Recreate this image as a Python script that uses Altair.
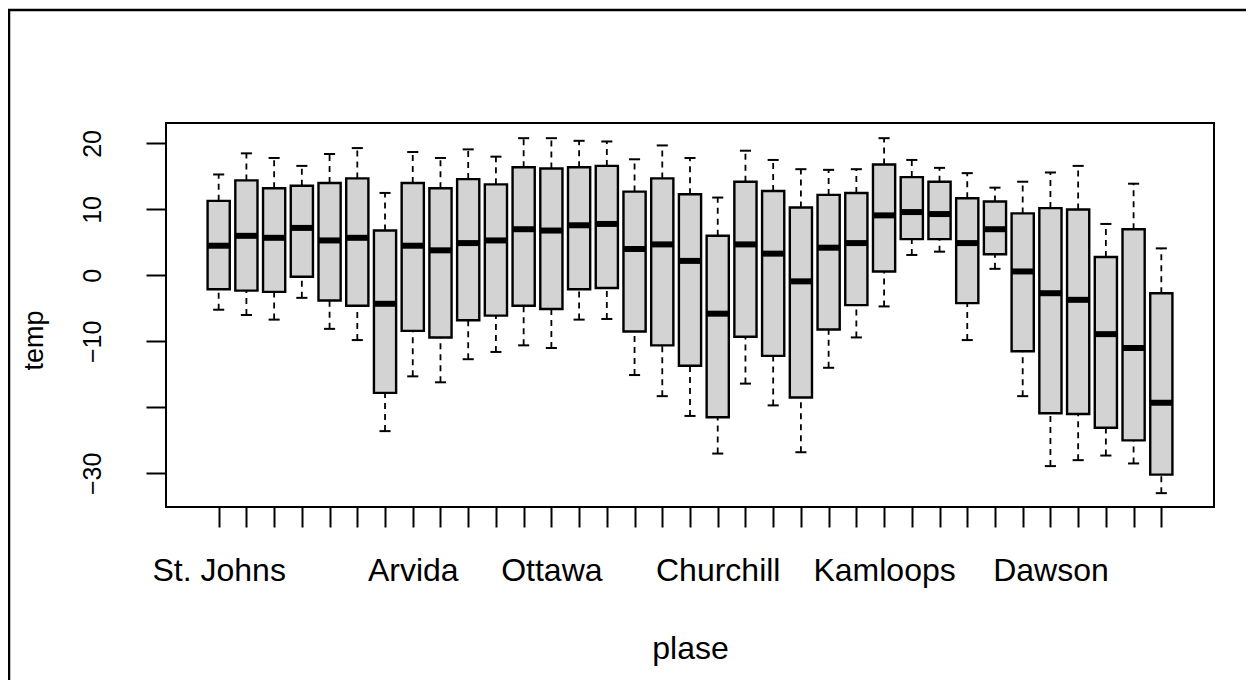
import json
import altair as alt
import pandas as pd

places = ["St. Johns", "Halifax", "Sydney", "Yarmouth", "Charlottvl", "Fredericton",
          "Scheffervll", "Arvida", "Bagottville", "Quebec", "Sherbrooke", "Montreal",
          "Ottawa", "Toronto", "London", "Thunder Bay", "Winnipeg", "The Pas",
          "Churchill", "Regina", "Pr. Albert", "Uranium City", "Edmonton", "Calgary",
          "Kamloops", "Vancouver", "Victoria", "Pr. George", "Pr. Rupert", "Whitehorse",
          "Dawson", "Yellowknife", "Iqaluit", "Inuvik", "Resolute"]
shown_labels = ["St. Johns", "Arvida", "Ottawa", "Churchill", "Kamloops", "Dawson"]

whisker_low = [-5.2, -6.0, -6.7, -3.4, -8.1, -9.8, -23.6, -15.3, -16.2, -12.7, -11.6, -10.6,
               -11.0, -6.7, -6.6, -15.1, -18.3, -21.3, -27.0, -16.4, -19.7, -26.8, -14.0, -9.4,
               -4.7, 3.1, 3.6, -9.8, 1.0, -18.3, -28.9, -28.0, -27.3, -28.5, -33.0]
q1 = [-2.1, -2.3, -2.5, -0.2, -3.8, -4.6, -17.8, -8.4, -9.4, -6.8, -6.1, -4.6,
      -5.1, -2.1, -1.9, -8.5, -10.6, -13.7, -21.5, -9.3, -12.2, -18.5, -8.2, -4.5,
      0.6, 5.5, 5.5, -4.2, 3.2, -11.5, -20.9, -21.0, -23.1, -25.0, -30.2]
median = [4.5, 6.0, 5.7, 7.2, 5.3, 5.7, -4.3, 4.5, 3.8, 4.9, 5.3, 7.0,
          6.8, 7.6, 7.8, 4.0, 4.7, 2.2, -5.8, 4.7, 3.3, -0.9, 4.2, 4.9,
          9.1, 9.6, 9.3, 4.9, 7.0, 0.6, -2.7, -3.7, -8.9, -11.0, -19.3]
q3 = [11.3, 14.4, 13.2, 13.6, 14.0, 14.7, 6.8, 14.0, 13.2, 14.6, 13.8, 16.4,
      16.2, 16.4, 16.6, 12.7, 14.7, 12.3, 6.0, 14.2, 12.8, 10.3, 12.2, 12.5,
      16.8, 14.9, 14.2, 11.7, 11.2, 9.4, 10.2, 10.0, 2.8, 7.0, -2.7]
whisker_high = [15.3, 18.5, 17.8, 16.6, 18.4, 19.3, 12.5, 18.7, 17.8, 19.1, 18.0, 20.8,
                20.8, 20.4, 20.3, 17.6, 19.7, 17.8, 11.8, 18.9, 17.5, 16.1, 16.0, 16.1,
                20.8, 17.5, 16.3, 15.5, 13.3, 14.2, 15.6, 16.6, 7.8, 13.9, 4.1]

df = pd.DataFrame({
    "idx": list(range(1, len(places) + 1)),
    "place": places,
    "low": whisker_low, "q1": q1, "median": median, "q3": q3, "high": whisker_high,
})

W, H = 1048, 384
FONT = "Liberation Sans"

places_js = json.dumps(places)
shown_js = json.dumps(shown_labels)
label_expr = (f"indexof({shown_js}, {places_js}[datum.value - 1]) >= 0 ? "
              f"{places_js}[datum.value - 1] : ''")

xscale = alt.Scale(domain=[-0.9, 36.9], nice=False, zero=False)
yscale = alt.Scale(domain=[-35.1, 23.1], nice=False, zero=False)

x_axis = alt.Axis(
    values=list(range(1, len(places) + 1)), tickCount=len(places) + 5,
    labelExpr=label_expr, title="plase",
    grid=False, domain=False, ticks=True, tickSize=20, tickWidth=2, tickColor="black",
    labelFontSize=32, labelColor="black", labelBaseline="alphabetic", labelPadding=53,
    labelOverlap=False, labelFlush=False, labelFont=FONT,
    titleFontSize=32, titleFontWeight="normal", titleColor="black", titleFont=FONT,
    titleX=W / 2, titleY=151, titleBaseline="alphabetic", titleAlign="center",
)
y_axis = alt.Axis(
    values=[-30, -20, -10, 0, 10, 20], tickCount=12,
    labelExpr="datum.value == -20 ? '' : datum.label",
    title="temp", grid=False, domain=False, tickSize=20, tickWidth=2, tickColor="black",
    labelFontSize=25, labelColor="black", labelAngle=-90, labelAlign="center",
    labelBaseline="alphabetic", labelPadding=46, labelFont=FONT, labelOverlap=False,
    titleFontSize=27, titleFontWeight="normal", titleColor="black", titleFont=FONT,
    titleAngle=-90, titleX=-124, titleY=217, titleBaseline="alphabetic", titleAlign="center",
)

base = alt.Chart(df).transform_calculate(
    xl="datum.idx - 0.4", xr="datum.idx + 0.4",
    sl="datum.idx - 0.2", sr="datum.idx + 0.2",
)

whisk_lo = base.mark_rule(color="black", strokeWidth=1.8, strokeDash=[6, 5]).encode(
    x=alt.X("idx:Q", scale=xscale, axis=x_axis),
    y=alt.Y("low:Q", scale=yscale, axis=y_axis),
    y2="q1:Q",
)
whisk_hi = base.mark_rule(color="black", strokeWidth=1.8, strokeDash=[6, 5]).encode(
    x=alt.X("idx:Q", scale=xscale),
    y=alt.Y("q3:Q", scale=yscale),
    y2="high:Q",
)
boxes = base.mark_rect(fill="#d3d3d3", stroke="black", strokeWidth=2.4).encode(
    x=alt.X("xl:Q", scale=xscale), x2="xr:Q",
    y=alt.Y("q1:Q", scale=yscale), y2="q3:Q",
)
medians = base.mark_rule(color="black", strokeWidth=6, strokeCap="butt").encode(
    x=alt.X("xl:Q", scale=xscale), x2="xr:Q",
    y=alt.Y("median:Q", scale=yscale),
)
staple_lo = base.mark_rule(color="black", strokeWidth=2).encode(
    x=alt.X("sl:Q", scale=xscale), x2="sr:Q",
    y=alt.Y("low:Q", scale=yscale),
)
staple_hi = base.mark_rule(color="black", strokeWidth=2).encode(
    x=alt.X("sl:Q", scale=xscale), x2="sr:Q",
    y=alt.Y("high:Q", scale=yscale),
)

frame_data = alt.Data(values=[{"f": 1}])
frame_left = alt.Chart(frame_data).mark_rule(color="black", strokeWidth=2.5).encode(
    x=alt.value(-157), y=alt.value(-113), y2=alt.value(H + 175)
)
frame_top = alt.Chart(frame_data).mark_rule(color="black", strokeWidth=2.5).encode(
    x=alt.value(-158), x2=alt.value(W + 40), y=alt.value(-113)
)

chart = alt.layer(
    whisk_lo, whisk_hi, boxes, medians, staple_lo, staple_hi, frame_left, frame_top
).properties(
    width=W, height=H,
    autosize=alt.AutoSizeParams(type="none"),
    padding={"left": 158, "top": 115, "right": 32, "bottom": 173},
).configure(font=FONT, background="white").configure_view(
    stroke="black", strokeWidth=2
)

chart.save("out.html", embed_options={"renderer": "svg", "actions": False})
